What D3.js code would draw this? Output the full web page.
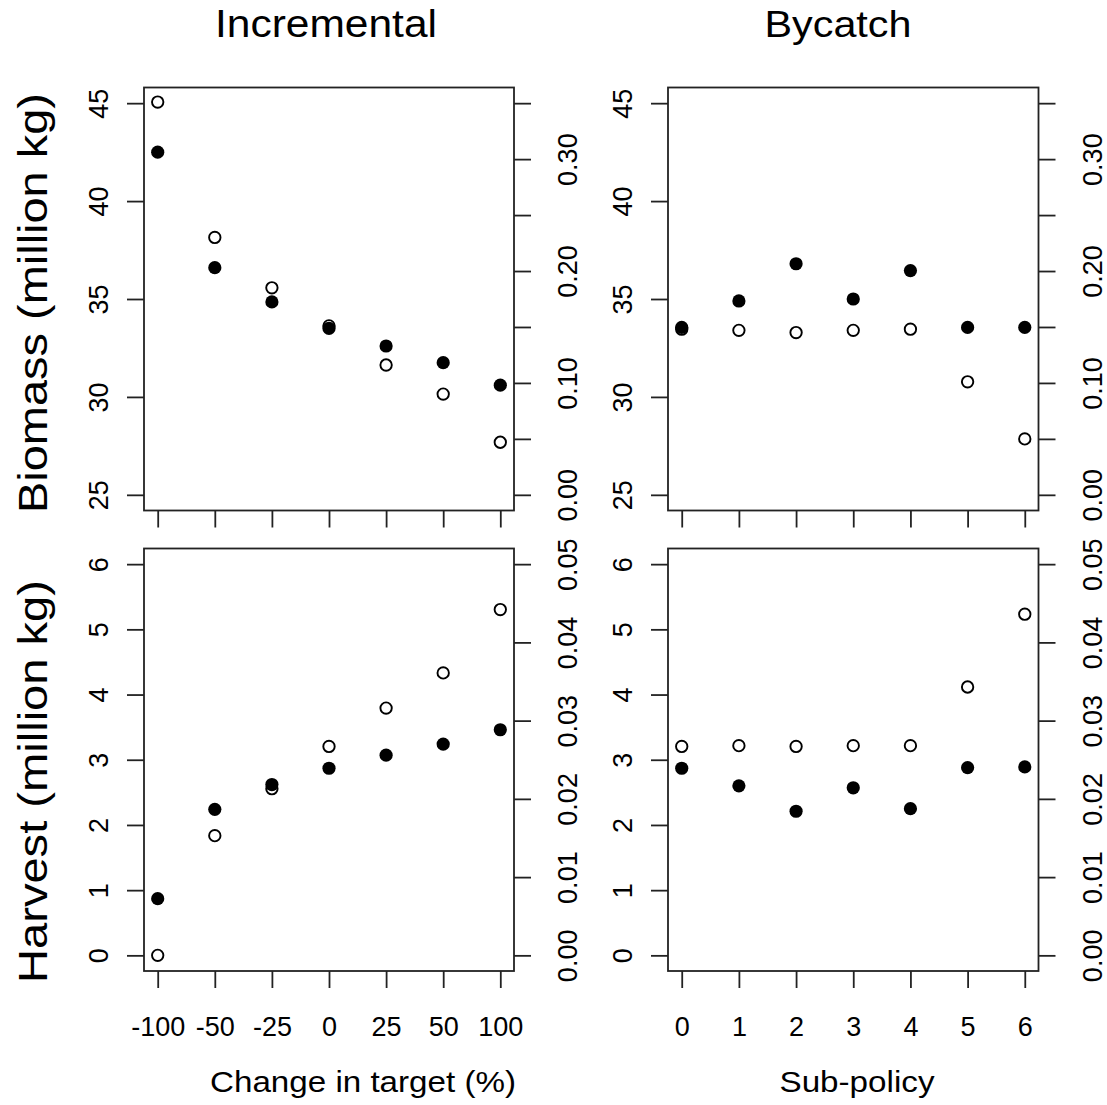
<!doctype html>
<html lang="en">
  <head>
    <meta charset="utf-8">
    <title>Incremental vs Bycatch</title>
    <script src="https://d3js.org/d3.v7.min.js"></script>
    <style>
      body { margin: 0; background: #fff; }
      text { font-family: 'Liberation Sans', Arial, Helvetica, sans-serif; fill: #000; }
      .tick line { stroke: #222; stroke-width: 1.8px; }
    </style>
  </head>
  <body>
    <div id="holder"></div>
  </body>
  <script>
      // categories on the x axes
      const incrementalLabels = ['-100', '-50', '-25', '0', '25', '50', '100'];
      const bycatchLabels = ['0', '1', '2', '3', '4', '5', '6'];

      // filled points: left axis (million kg)
      // open points: right axis
      const incBiomassFilled = [42.5, 36.6, 34.85, 33.5, 32.6, 31.75, 30.6];
      const incBiomassOpen = [0.351, 0.230, 0.185, 0.151, 0.116, 0.090, 0.047];
      const bycBiomassFilled = [33.55, 34.9, 36.8, 35.0, 36.45, 33.55, 33.55];
      const bycBiomassOpen = [0.148, 0.147, 0.145, 0.147, 0.148, 0.101, 0.050];

      const incHarvestFilled = [0.87, 2.24, 2.62, 2.87, 3.07, 3.24, 3.46];
      const incHarvestOpen = [0.000, 0.0153, 0.0213, 0.0267, 0.0316, 0.0361, 0.0442];
      const bycHarvestFilled = [2.87, 2.60, 2.21, 2.57, 2.25, 2.88, 2.89];
      const bycHarvestOpen = [0.0267, 0.0268, 0.0267, 0.0268, 0.0268, 0.0343, 0.0436];

      // axis ticks
      const biomassTicks = [25, 30, 35, 40, 45];
      const biomassRightTicks = [0, 0.05, 0.10, 0.15, 0.20, 0.25, 0.30, 0.35];
      const biomassRightLabels = ['0.00', '', '0.10', '', '0.20', '', '0.30', ''];
      const harvestTicks = [0, 1, 2, 3, 4, 5, 6];
      const harvestRightTicks = [0, 0.01, 0.02, 0.03, 0.04, 0.05];
      const harvestRightLabels = ['0.00', '0.01', '0.02', '0.03', '0.04', '0.05'];

      const W = 1107, H = 1105;
      const cols = [{x0: 144, x1: 514}, {x0: 668, x1: 1038.5}];
      const rows = [{y0: 87.5, y1: 510.5}, {y0: 548.5, y1: 971}];
      const tickLen = 17;
      const tickFont = '27px';

      const svg = d3.select('#holder')
          .append('svg')
          .attr('width', W)
          .attr('height', H);

      // R style 4% axis expansion
      function expand(lo, hi) {
          const pad = (hi - lo) * 0.04;
          return [lo - pad, hi + pad];
      }

      function drawPanel(col, row, labels, showXLabels, filled, open, leftTicks, rightTicks, rightLabels) {
          const c = cols[col], r = rows[row];
          const x = d3.scaleLinear().domain(expand(0, labels.length - 1)).range([c.x0, c.x1]);
          const yL = d3.scaleLinear().domain(expand(leftTicks[0], leftTicks[leftTicks.length - 1])).range([r.y1, r.y0]);
          const yR = d3.scaleLinear().domain(expand(rightTicks[0], rightTicks[rightTicks.length - 1])).range([r.y1, r.y0]);
          const g = svg.append('g');

          // bottom axis
          const xAxis = d3.axisBottom(x)
              .tickValues(d3.range(labels.length))
              .tickSize(tickLen)
              .tickFormat(function(d) { return showXLabels ? labels[d] : ''; });
          const gx = g.append('g')
              .attr('transform', 'translate(0,' + r.y1 + ')')
              .call(xAxis);
          gx.select('.domain').remove();
          gx.selectAll('text')
              .attr('y', 56)
              .attr('dy', '0.35em')
              .style('font-size', tickFont);

          // left axis
          const yAxisL = d3.axisLeft(yL).tickValues(leftTicks).tickSize(tickLen)
              .tickFormat(d3.format('d'));
          const gl = g.append('g')
              .attr('transform', 'translate(' + c.x0 + ',0)')
              .call(yAxisL);
          gl.select('.domain').remove();
          gl.selectAll('text')
              .attr('x', null)
              .attr('dy', '0.35em')
              .attr('text-anchor', 'middle')
              .attr('transform', 'translate(-45,0) rotate(-90)')
              .style('font-size', tickFont);

          // right axis
          const yAxisR = d3.axisRight(yR).tickValues(rightTicks).tickSize(tickLen)
              .tickFormat(function(d, i) { return rightLabels[i]; });
          const gr = g.append('g')
              .attr('transform', 'translate(' + c.x1 + ',0)')
              .call(yAxisR);
          gr.select('.domain').remove();
          gr.selectAll('text')
              .attr('x', null)
              .attr('dy', '0.35em')
              .attr('text-anchor', 'middle')
              .attr('transform', 'translate(54,0) rotate(-90)')
              .style('font-size', tickFont);

          // box
          g.append('rect')
              .attr('x', c.x0)
              .attr('y', r.y0)
              .attr('width', c.x1 - c.x0)
              .attr('height', r.y1 - r.y0)
              .attr('fill', 'none')
              .attr('stroke', '#222')
              .attr('stroke-width', 1.8);

          // points
          g.selectAll('.filled')
              .data(filled)
              .enter()
              .append('circle')
              .attr('class', 'filled')
              .attr('cx', function(d, i) { return x(i); })
              .attr('cy', function(d) { return yL(d); })
              .attr('r', 6.6)
              .attr('fill', '#000');

          g.selectAll('.open')
              .data(open)
              .enter()
              .append('circle')
              .attr('class', 'open')
              .attr('cx', function(d, i) { return x(i); })
              .attr('cy', function(d) { return yR(d); })
              .attr('r', 5.7)
              .attr('fill', 'none')
              .attr('stroke', '#000')
              .attr('stroke-width', 1.9);
      }

      drawPanel(0, 0, incrementalLabels, false, incBiomassFilled, incBiomassOpen, biomassTicks, biomassRightTicks, biomassRightLabels);
      drawPanel(1, 0, bycatchLabels, false, bycBiomassFilled, bycBiomassOpen, biomassTicks, biomassRightTicks, biomassRightLabels);
      drawPanel(0, 1, incrementalLabels, true, incHarvestFilled, incHarvestOpen, harvestTicks, harvestRightTicks, harvestRightLabels);
      drawPanel(1, 1, bycatchLabels, true, bycHarvestFilled, bycHarvestOpen, harvestTicks, harvestRightTicks, harvestRightLabels);

      // titles and axis titles
      function addText(str, x, y, size, len, rotate) {
          svg.append('text')
              .text(str)
              .attr('text-anchor', 'middle')
              .attr('textLength', len)
              .attr('lengthAdjust', 'spacingAndGlyphs')
              .attr('transform', 'translate(' + x + ',' + y + ')' + (rotate ? ' rotate(-90)' : ''))
              .style('font-size', size + 'px');
      }

      addText('Incremental', 326, 36.7, 38, 222, false);
      addText('Bycatch', 838, 37.3, 37, 147, false);
      addText('Biomass (million kg)', 46.7, 303, 40, 420, true);
      addText('Harvest (million kg)', 46.7, 781.5, 40, 403, true);
      addText('Change in target (%)', 363, 1091.7, 30, 306, false);
      addText('Sub-policy', 857, 1092, 30, 155, false);
  </script>
</html>
